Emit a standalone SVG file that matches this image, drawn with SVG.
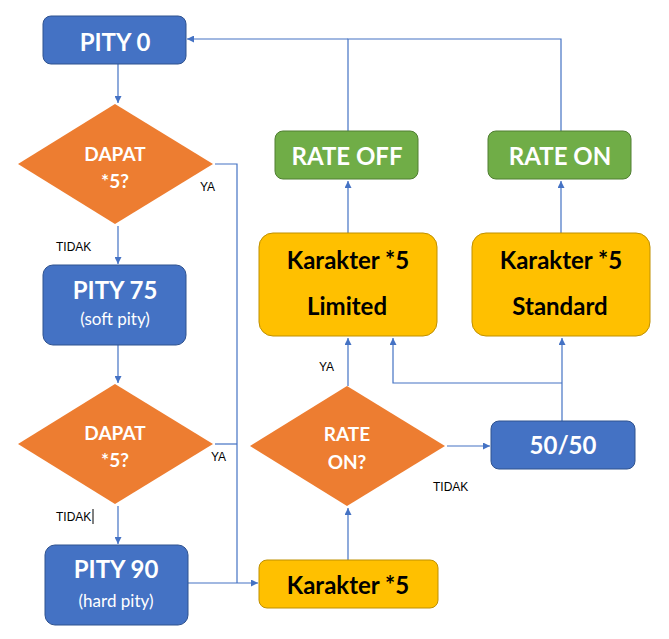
<svg xmlns="http://www.w3.org/2000/svg" width="669" height="639" viewBox="0 0 669 639">
<style>
.blue{fill:#4472C4;stroke:#2F528F;stroke-width:1}
.orange{fill:#ED7D31;stroke:none}
.green{fill:#70AD47;stroke:#507E32;stroke-width:1}
.yellow{fill:#FFC000;stroke:#BF9000;stroke-width:1}
.big{font-family:Lato,"Liberation Sans",sans-serif;font-weight:bold;font-size:24px;text-anchor:middle}
.mid{font-family:Lato,"Liberation Sans",sans-serif;font-weight:bold;font-size:19px;text-anchor:middle;fill:#fff}
.small{font-family:Lato,"Liberation Sans",sans-serif;font-size:17px;text-anchor:middle;fill:#fff}
.w{fill:#fff}
.k{fill:#000}
.lbl{font-family:"Liberation Sans",Arial,sans-serif;font-size:12px;fill:#000}
.c{fill:none;stroke:#4472C4;stroke-width:1.2}
</style>
<defs>
<marker id="ah" viewBox="0 0 10 10" refX="10" refY="5" markerWidth="7" markerHeight="7" markerUnits="userSpaceOnUse" orient="auto">
<path d="M0,0 L10,5 L0,10 z" fill="#4472C4"/>
</marker>
</defs>
<rect width="669" height="639" fill="#fff"/>
<g id="connectors">
<path class="c" d="M118,64 V103" marker-end="url(#ah)"/>
<path class="c" d="M118,226 V264" marker-end="url(#ah)"/>
<path class="c" d="M118,345 V383" marker-end="url(#ah)"/>
<path class="c" d="M118,506 V544" marker-end="url(#ah)"/>
<path class="c" d="M215,164 H237 V583"/>
<path class="c" d="M215,444 H237"/>
<path class="c" d="M188,583 H258" marker-end="url(#ah)"/>
<path class="c" d="M348,560 V508" marker-end="url(#ah)"/>
<path class="c" d="M447,446 H490" marker-end="url(#ah)"/>
<path class="c" d="M348,386 V338" marker-end="url(#ah)"/>
<path class="c" d="M562,421 V338" marker-end="url(#ah)"/>
<path class="c" d="M562,383 H393 V338" marker-end="url(#ah)"/>
<path class="c" d="M348,233 V181" marker-end="url(#ah)"/>
<path class="c" d="M561,233 V181" marker-end="url(#ah)"/>
<path class="c" d="M348,131 V39 H561 V131"/>
<path class="c" d="M348,39 H187" marker-end="url(#ah)"/>
</g>
<g id="pity0">
<rect class="blue" x="43" y="16" width="143" height="48" rx="8"/>
<text class="big w" x="115" y="51">PITY 0</text>
</g>
<g id="dapat1">
<polygon class="orange" points="115,104 213,164 115,224 18,164"/>
<text class="mid" x="115" y="161">DAPAT</text>
<text class="mid" x="115" y="188">*5?</text>
</g>
<g id="pity75">
<rect class="blue" x="43" y="265" width="143" height="80" rx="10"/>
<text class="big w" x="115" y="299">PITY 75</text>
<text class="small" x="115" y="325">(soft pity)</text>
</g>
<g id="dapat2">
<polygon class="orange" points="115,384 213,444 115,504 18,444"/>
<text class="mid" x="115" y="440">DAPAT</text>
<text class="mid" x="115" y="467">*5?</text>
</g>
<g id="pity90">
<rect class="blue" x="45" y="545" width="143" height="80" rx="10"/>
<text class="big w" x="116" y="578">PITY 90</text>
<text class="small" x="116" y="607">(hard pity)</text>
</g>
<g id="karakter5">
<rect class="yellow" x="259" y="560" width="179" height="48" rx="8"/>
<text class="big k" x="348" y="594">Karakter *5</text>
</g>
<g id="rateon-q">
<polygon class="orange" points="347,386 445,446 347,506 250,446"/>
<text class="mid" x="347" y="441">RATE</text>
<text class="mid" x="347" y="469">ON?</text>
</g>
<g id="fiftyfifty">
<rect class="blue" x="491" y="421" width="144" height="48" rx="8"/>
<text class="big w" x="563" y="454">50/50</text>
</g>
<g id="limited">
<rect class="yellow" x="259" y="233" width="178" height="103" rx="14"/>
<text class="big k" x="348" y="269">Karakter *5</text>
<text class="big k" x="347" y="315">Limited</text>
</g>
<g id="standard">
<rect class="yellow" x="472" y="233" width="178" height="103" rx="14"/>
<text class="big k" x="561" y="269">Karakter *5</text>
<text class="big k" x="560" y="315">Standard</text>
</g>
<g id="rateoff">
<rect class="green" x="275" y="131" width="143" height="48" rx="8"/>
<text class="big w" x="347" y="165">RATE OFF</text>
</g>
<g id="rateon">
<rect class="green" x="488" y="131" width="143" height="48" rx="8"/>
<text class="big w" x="560" y="165">RATE ON</text>
</g>
<g id="labels">
<text class="lbl" x="200" y="191">YA</text>
<text class="lbl" x="56" y="251">TIDAK</text>
<text class="lbl" x="211" y="461">YA</text>
<text class="lbl" x="56" y="521">TIDAK</text>
<line x1="93" y1="509" x2="93" y2="524" stroke="#000" stroke-width="1"/>
<text class="lbl" x="319" y="371">YA</text>
<text class="lbl" x="433" y="491">TIDAK</text>
</g>
</svg>
